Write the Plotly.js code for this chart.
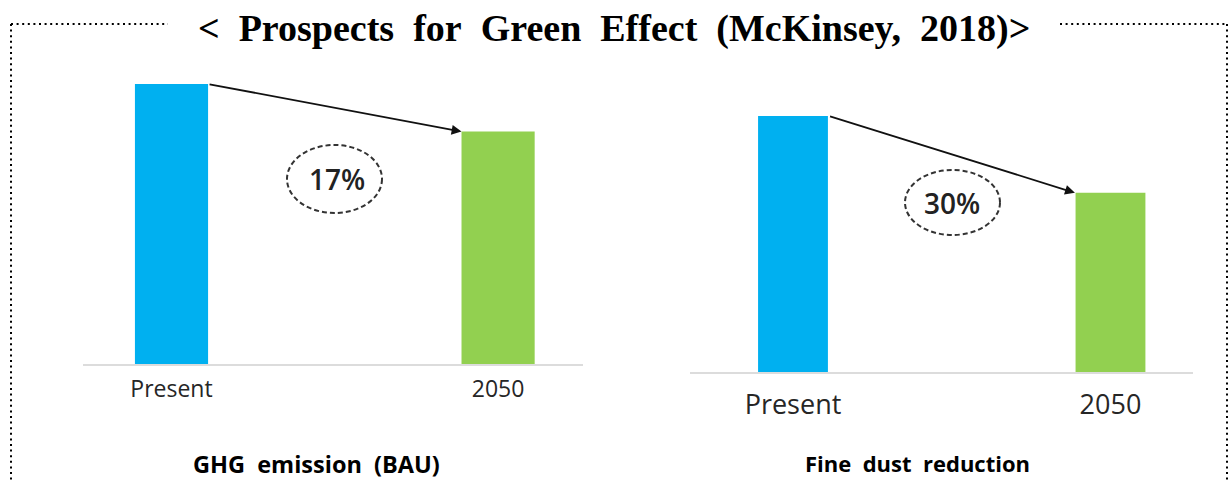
<!DOCTYPE html>
<html>
<head>
<meta charset="utf-8">
<script src="https://cdn.plot.ly/plotly-3.0.1.min.js"></script>
<style>
  html, body { margin: 0; padding: 0; background: #fff; }
  #chart { width: 1230px; height: 483px; }
</style>
</head>
<body>
<div id="chart"></div>
<script>
// Two before/after comparisons (index: present = 100)
const periods = ['Present', '2050'];
const ghgValues = [100, 83];
const dustValues = [100, 70];
const panelTitles = ['GHG\u00a0 emission\u00a0 (BAU)', 'Fine\u00a0 dust\u00a0 reduction'];
const barColors = ['#00B0F0', '#92D050'];

const W = 1230, H = 483;
const px = x => x / W;          // pixel -> paper x
const py = y => 1 - y / H;      // pixel -> paper y

const reduction = v => Math.round((1 - v[1] / v[0]) * 100) + '%';

const sans = 'Open Sans, Noto Sans, sans-serif';
const halfBar = 0.112;

const traces = [
  { type: 'bar', x: periods, y: ghgValues, xaxis: 'x', yaxis: 'y',
    width: 0.224, marker: { color: barColors }, hoverinfo: 'skip' },
  { type: 'bar', x: periods, y: dustValues, xaxis: 'x2', yaxis: 'y2',
    width: 0.22, marker: { color: barColors }, hoverinfo: 'skip' }
];

const xCommon = {
  type: 'category', showgrid: false, zeroline: false,
  showline: true, linecolor: '#dcdcdc', linewidth: 1.5,
  ticks: '', fixedrange: true
};
const yCommon = { visible: false, showgrid: false, zeroline: false, fixedrange: true, range: [0, 100] };

// dotted frame, broken at the title
const frameLine = { type: 'line', xref: 'paper', yref: 'paper',
  line: { color: '#000', width: 2, dash: '2px,3.6px' } };
const shapes = [
  Object.assign({}, frameLine, { x0: px(11), x1: px(168), y0: py(24), y1: py(24) }),
  Object.assign({}, frameLine, { x0: px(1060), x1: px(1227), y0: py(24), y1: py(24) }),
  Object.assign({}, frameLine, { x0: px(11), x1: px(11), y0: py(24), y1: py(492) }),
  Object.assign({}, frameLine, { x0: px(1227), x1: px(1227), y0: py(24), y1: py(492) }),
  // dashed ellipses around the reduction figures
  { type: 'circle', xref: 'paper', yref: 'paper',
    x0: px(287), x1: px(382), y0: py(213), y1: py(145),
    line: { color: '#333', width: 2, dash: '5px,3px' } },
  { type: 'circle', xref: 'paper', yref: 'paper',
    x0: px(905), x1: px(1000), y0: py(235), y1: py(170),
    line: { color: '#333', width: 2, dash: '5px,3px' } }
];

const arrow = (xa, ya, vals) => ({
  xref: xa, yref: ya, axref: xa, ayref: ya,
  x: 1 - halfBar, y: vals[1], ax: 0 + halfBar, ay: vals[0],
  text: '', showarrow: true, arrowhead: 2, arrowsize: 1.1,
  arrowwidth: 1.8, arrowcolor: '#111', standoff: 0, startstandoff: 0
});

const annotations = [
  { xref: 'paper', yref: 'paper', x: px(614), y: py(28), xanchor: 'center', yanchor: 'middle',
    text: '&lt;\u00a0 Prospects\u00a0 for\u00a0 Green\u00a0 Effect\u00a0 (McKinsey,\u00a0 2018)&gt;',
    showarrow: false,
    font: { family: 'Liberation Serif, Times New Roman, serif', size: 38, weight: 'bold', color: '#000' } },
  arrow('x', 'y', ghgValues),
  arrow('x2', 'y2', dustValues),
  { xref: 'paper', yref: 'paper', x: px(337), y: py(179), xanchor: 'center', yanchor: 'middle',
    text: reduction(ghgValues), showarrow: false,
    font: { family: sans, size: 28, weight: 600, color: '#222' } },
  { xref: 'paper', yref: 'paper', x: px(952), y: py(203), xanchor: 'center', yanchor: 'middle',
    text: reduction(dustValues), showarrow: false,
    font: { family: sans, size: 28, weight: 600, color: '#222' } },
  { xref: 'paper', yref: 'paper', x: px(316), y: py(464), xanchor: 'center', yanchor: 'middle',
    text: panelTitles[0], showarrow: false,
    font: { family: sans, size: 23.5, weight: 'bold', color: '#000' } },
  { xref: 'paper', yref: 'paper', x: px(917), y: py(463), xanchor: 'center', yanchor: 'middle',
    text: panelTitles[1], showarrow: false,
    font: { family: sans, size: 22, weight: 'bold', color: '#000' } }
];

const layout = {
  width: W, height: H,
  margin: { l: 0, r: 0, t: 0, b: 0 },
  paper_bgcolor: '#fff', plot_bgcolor: 'rgba(0,0,0,0)',
  showlegend: false,
  xaxis: Object.assign({}, xCommon, { domain: [px(83), px(583)], range: [-0.271, 1.26], anchor: 'y',
    tickfont: { family: sans, size: 23, color: '#262626' }, ticklabelstandoff: 4 }),
  yaxis: Object.assign({}, yCommon, { domain: [py(364), py(84)], anchor: 'x' }),
  xaxis2: Object.assign({}, xCommon, { domain: [px(690), px(1193)], range: [-0.3244, 1.2599], anchor: 'y2',
    tickfont: { family: sans, size: 27, color: '#262626' }, ticklabelstandoff: 8 }),
  yaxis2: Object.assign({}, yCommon, { domain: [py(372), py(116)], anchor: 'x2' }),
  shapes: shapes,
  annotations: annotations
};

Plotly.newPlot('chart', traces, layout, { displayModeBar: false, staticPlot: true });
</script>
</body>
</html>
